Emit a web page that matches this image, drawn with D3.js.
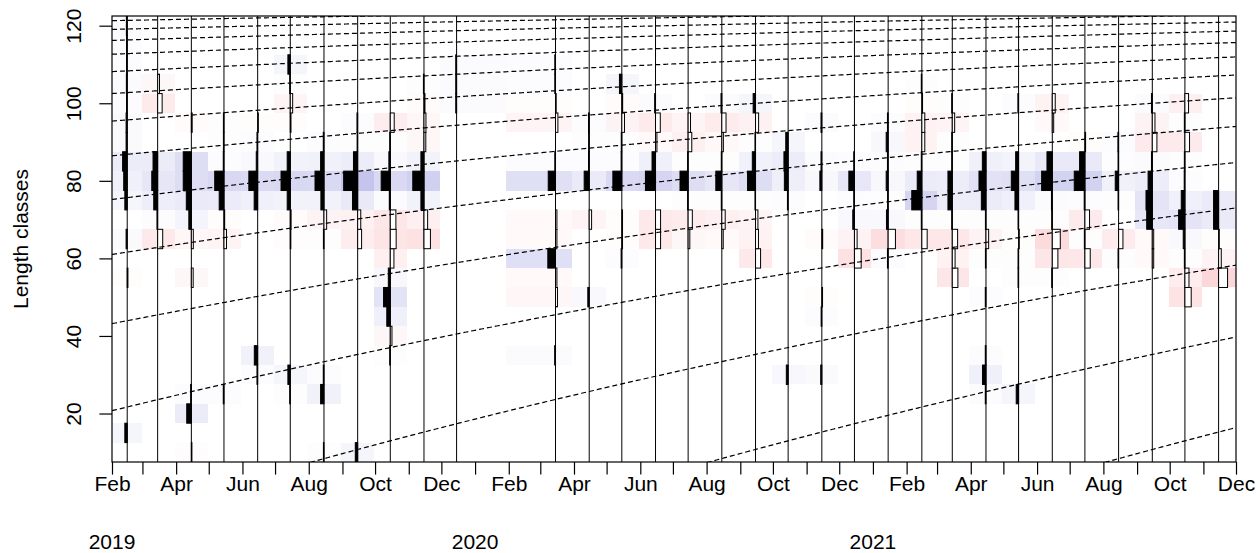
<!DOCTYPE html>
<html>
<head>
<meta charset="utf-8">
<script src="https://cdn.jsdelivr.net/npm/d3@7"></script>
<style>
  body { margin: 0; background: #fff; }
  text { font-family: Arial, "Liberation Sans", sans-serif; fill: #000; }
</style>
</head>
<body>
<svg id="chart" width="1260" height="553"></svg>
<script>
// Length class mid-points (cm), bin width 5
const lengthClasses = [10, 15, 20, 25, 30, 35, 40, 45, 50, 55, 60, 65, 70, 75, 80, 85, 90, 95, 100, 105, 110, 115, 120];

// Sampling dates (mid-month)
const sampleDates = [
  "2019-02-15", "2019-03-15", "2019-04-15", "2019-05-15", "2019-06-15", "2019-07-15",
  "2019-08-15", "2019-09-15", "2019-10-15", "2019-11-15", "2019-12-15",
  "2020-03-15", "2020-04-15", "2020-05-15", "2020-06-15", "2020-07-15",
  "2020-08-15", "2020-09-15", "2020-10-15", "2020-11-15", "2020-12-15",
  "2021-01-15", "2021-02-15", "2021-03-15", "2021-04-15", "2021-05-15", "2021-06-15",
  "2021-07-15", "2021-08-15", "2021-09-15", "2021-10-15", "2021-11-15"
];

// Restructured counts per sample, one value per length class (10 ... 120)
const rcounts2019 = [
  [0, 0.17, 0, 0, 0, 0, 0, 0, 0, -0.05, 0, 0.08, 0, 0.17, 0.25, 0.33, 0.08, 0.08, 0.05, 0.06, 0.05, 0.05, 0.06],
  [0, 0, 0, 0, 0, 0, 0, 0, 0, 0, 0, -0.36, 0.05, 0.28, 0.42, 0.33, 0, 0, -0.32, -0.13, 0, 0, 0],
  [-0.04, 0, 0.33, 0.05, 0, 0, 0, 0, 0, -0.13, 0, -0.14, 0.18, 0.36, 0.58, 0.58, 0, -0.06, 0, 0, 0, 0, 0],
  [0, 0, 0, 0.05, 0, 0, 0, 0, 0, 0, 0, -0.18, -0.05, 0.34, 0.66, 0.05, 0.04, 0.04, 0, 0, 0, 0, 0],
  [0, 0, 0, 0, 0.05, 0.24, 0, 0, 0, 0, 0, 0, 0, 0.25, 0.63, 0.1, 0.05, -0.05, 0, 0, 0, 0, 0],
  [0, 0, 0, 0.04, 0.17, 0, 0, 0, 0, 0, 0, -0.04, -0.06, 0.22, 0.66, 0.22, 0, -0.05, -0.17, 0.04, 0.17, 0, 0],
  [0.04, 0, 0, 0.24, 0.05, 0, 0, 0, 0, 0, 0, 0.04, -0.19, 0.22, 0.64, 0.24, 0.05, 0, 0, 0, 0, 0, 0],
  [0.17, 0, 0, 0, 0, 0, 0, 0, 0, 0, 0, -0.28, -0.22, 0.37, 1.0, 0.3, 0.04, 0.05, 0, 0, 0, 0, 0],
  [0, 0, 0, 0, 0, 0.04, -0.12, 0.25, 0.48, 0.14, -0.26, -0.42, -0.4, 0.07, 0.65, 0.1, 0.04, -0.28, 0, 0, 0, 0, 0],
  [0, 0, 0, 0, 0, 0, 0, 0, 0, 0, 0, -0.46, -0.26, 0.22, 0.8, 0.22, -0.13, -0.14, -0.07, 0.04, 0, 0, 0],
  [0, 0, 0, 0, 0, 0, 0, 0, 0, 0, 0, 0, 0, 0, 0, 0, 0, 0, 0.06, 0.06, 0.06, 0, 0]
];
const rcounts2020 = [
  [0, 0, 0, 0, 0, 0.06, 0, 0, -0.14, -0.1, 0.55, -0.1, -0.1, 0, 0.52, 0.05, 0, -0.17, -0.05, 0.05, 0.05, 0, 0],
  [0, 0, 0, 0, 0, 0, 0, 0, 0.1, 0, 0, 0, -0.17, 0, 0.36, 0.05, 0.04, 0.05, 0, 0, 0, 0, 0],
  [0, 0, 0, 0, 0, 0, 0, 0, 0, 0, 0.05, -0.05, -0.05, 0, 0.64, 0.05, 0.04, -0.19, -0.06, 0.17, 0, 0, 0],
  [0, 0, 0, 0, 0, 0, 0, 0, 0, 0, 0, -0.36, -0.36, 0, 0.72, 0.25, -0.1, -0.34, 0.06, 0, 0, 0, 0],
  [0, 0, 0, 0, 0, 0, 0, 0, 0, 0, 0, -0.12, -0.3, 0.04, 0.58, 0.04, -0.26, -0.17, 0, 0, 0, 0, 0],
  [0, 0, 0, 0, 0, 0, 0, 0, 0, 0, 0, -0.1, -0.24, 0.04, 0.43, 0.04, -0.11, -0.3, 0.06, 0, 0, 0, 0],
  [0, 0, 0, 0, 0, 0, 0, 0, 0, 0, -0.36, -0.21, -0.17, 0.04, 0.57, 0.23, 0.04, -0.22, 0.17, 0, 0, 0, 0],
  [0, 0, 0, 0, 0.13, 0, 0, 0, 0, 0, 0, 0, 0, 0.05, 0.27, 0.3, 0.17, 0, 0, 0, 0, 0, 0],
  [0, 0, 0, 0, 0.08, 0, 0, 0.05, -0.05, 0, 0, -0.06, 0, 0, 0.14, 0.06, 0, 0.06, 0, 0, 0, 0, 0],
  [0, 0, 0, 0, 0, 0, 0, 0, 0, 0, -0.48, -0.19, 0.12, 0.05, 0.4, 0.05, 0, 0, 0, 0, 0, 0, 0]
];
const rcounts2021 = [
  [0, 0, 0, 0, 0, 0, 0, 0, 0, 0, 0.05, -0.52, 0.12, 0.04, 0.14, 0.05, 0.14, 0.05, 0, 0, 0, 0, 0],
  [0, 0, 0, 0, 0, 0, 0, 0, 0, 0, 0, -0.38, 0.04, 0.72, 0.33, 0.04, -0.21, -0.21, -0.05, 0.04, 0, 0, 0],
  [0, 0, 0, 0, 0, 0, 0, 0, 0, -0.4, -0.2, -0.38, 0.04, 0.31, 0.31, 0.04, 0.04, -0.17, 0.04, 0, 0, 0, 0],
  [0, 0, 0, 0.05, 0.25, 0.05, 0, 0, 0.05, 0, 0.04, -0.19, 0.04, 0.33, 0.5, 0.26, 0, 0, 0, 0, 0, 0, 0],
  [0, 0, 0, 0.17, 0, 0, 0, 0, 0, 0.04, 0.04, -0.05, 0.04, 0.26, 0.52, 0.21, 0, 0, 0.05, 0, 0, 0, 0],
  [0, 0, 0, 0, 0, 0, 0, 0, 0, 0.04, -0.4, -0.57, 0.04, 0.06, 0.76, 0.38, 0, -0.1, -0.21, 0, 0, 0, 0],
  [0, 0, 0, 0, 0, 0, 0, 0, 0, 0, -0.38, 0.04, -0.33, 0.05, 0.76, 0.38, -0.05, 0, 0, 0, 0, 0, 0],
  [0, 0, 0, 0, 0, 0, 0, 0, 0, 0, 0.04, -0.31, 0, 0.04, 0.24, 0.04, 0.05, 0, 0, 0, 0, 0, 0],
  [0, 0, 0, 0, 0, 0, 0, 0, 0, 0, -0.1, -0.1, 0.4, 0.45, 0.3, 0.06, -0.33, -0.19, 0.06, 0, 0, 0, 0],
  [0, 0, 0, 0, 0, 0, 0, 0, -0.45, -0.29, 0.04, 0.12, 0.45, 0.26, 0.05, 0.04, -0.33, 0.04, -0.26, 0, 0, 0, 0],
  [0, 0, 0, 0, 0, 0, 0, 0, 0, -0.64, -0.19, -0.05, 0.36, 0.36, 0, 0, 0, 0, 0, 0, 0, 0, 0]
];

// Axis ticks and labels
const yTicks = [20, 40, 60, 80, 100, 120];
const yearLabels = ["2019", "2020", "2021"];

// von Bertalanffy growth parameters and cohort birth years
const Linf = 130;
const K = 0.23;
const tAnchor = 0.33;
const cohortYears = [2004, 2005, 2006, 2007, 2008, 2009, 2010, 2011, 2012, 2013, 2014, 2015, 2016, 2017, 2018, 2019, 2020, 2021];

// ---------------------------------------------------------------------------
const svg = d3.select("#chart");
const pLeft = 112, pRight = 1236, pTop = 16, pBottom = 462;
const fontSize = 21;

const parse = d3.timeParse("%Y-%m-%d");
const dates = sampleDates.map(parse);
const rcounts = [...rcounts2019, ...rcounts2020, ...rcounts2021];

const x = d3.scaleTime()
  .domain([new Date(2019, 1, 1), new Date(2021, 11, 1)])
  .range([pLeft, pRight]);
const y = d3.scaleLinear().domain([7.5, 122.5]).range([pBottom, pTop]);
const barW = d3.scaleLinear().domain([0, 1]).range([0, 14]);
const heat = d3.scaleLinear()
  .domain([-1, 0, 1])
  .range(["rgb(250,192,196)", "#ffffff", "rgb(196,196,236)"]);

svg.append("defs").append("clipPath").attr("id", "plotArea")
  .append("rect").attr("x", pLeft).attr("y", pTop)
  .attr("width", pRight - pLeft).attr("height", pBottom - pTop);

const plot = svg.append("g").attr("clip-path", "url(#plotArea)");

// cell boundaries: half-way between neighbouring samples
const xs = dates.map(d => x(d));
const edges = xs.map((v, i) => [
  i === 0 ? pLeft : (xs[i - 1] + v) / 2,
  i === xs.length - 1 ? pRight : (v + xs[i + 1]) / 2
]);

// heat cells
const cells = [];
rcounts.forEach((row, i) => row.forEach((v, j) => {
  if (v !== 0) cells.push({ i, m: lengthClasses[j], v });
}));
plot.append("g").selectAll("rect").data(cells).join("rect")
  .attr("x", d => edges[d.i][0])
  .attr("width", d => edges[d.i][1] - edges[d.i][0])
  .attr("y", d => y(d.m + 2.5))
  .attr("height", d => y(d.m - 2.5) - y(d.m + 2.5))
  .attr("fill", d => heat(d.v))
  .attr("shape-rendering", "crispEdges");

// sample lines
plot.append("g").selectAll("line").data(dates).join("line")
  .attr("x1", d => x(d)).attr("x2", d => x(d))
  .attr("y1", pTop).attr("y2", pBottom)
  .attr("stroke", "#000").attr("stroke-width", 1);

// bars: positive to the left (black), negative to the right (white)
plot.append("g").selectAll("rect").data(cells).join("rect")
  .attr("x", d => d.v > 0 ? xs[d.i] - barW(d.v) : xs[d.i])
  .attr("width", d => barW(Math.abs(d.v)))
  .attr("y", d => y(d.m + 2.5))
  .attr("height", d => y(d.m - 2.5) - y(d.m + 2.5))
  .attr("fill", d => d.v > 0 ? "#000" : "#fff")
  .attr("stroke", "#000").attr("stroke-width", 1);

// growth curves
function decimalYear(d) {
  const yr = d.getFullYear();
  const s = new Date(yr, 0, 1), e = new Date(yr + 1, 0, 1);
  return yr + (d - s) / (e - s);
}
const days = d3.timeDay.range(x.domain()[0], d3.timeDay.offset(x.domain()[1], 1));
const line = d3.line().x(p => x(p[0])).y(p => y(p[1]));
cohortYears.forEach(c => {
  const pts = days
    .map(d => [d, Linf * (1 - Math.exp(-K * (decimalYear(d) - (c + tAnchor))))])
    .filter(p => p[1] >= 0);
  if (pts.length < 2) return;
  plot.append("path").datum(pts).attr("d", line)
    .attr("fill", "none").attr("stroke", "#000")
    .attr("stroke-width", 1.2).attr("stroke-dasharray", "5,3");
});

// frame
svg.append("rect").attr("x", pLeft).attr("y", pTop)
  .attr("width", pRight - pLeft).attr("height", pBottom - pTop)
  .attr("fill", "none").attr("stroke", "#000").attr("stroke-width", 1.2);

// y axis
const yAxis = svg.append("g").attr("transform", `translate(${pLeft},0)`)
  .call(d3.axisLeft(y).tickValues(yTicks).tickSize(12.6).tickFormat(d3.format("d")));
yAxis.select(".domain").remove();
yAxis.selectAll("line").attr("stroke", "#000").attr("stroke-width", 1.2);
yAxis.selectAll("text")
  .attr("font-size", fontSize).attr("x", null).attr("dy", null)
  .attr("text-anchor", "middle")
  .attr("transform", "translate(-31,0) rotate(-90)");

// x axis: monthly ticks, labels every second month
const fmtMonth = d3.timeFormat("%b");
const xAxis = svg.append("g").attr("transform", `translate(0,${pBottom})`)
  .call(d3.axisBottom(x).ticks(d3.timeMonth.every(1)).tickSize(12.6).tickPadding(10)
    .tickFormat(d => d.getMonth() % 2 === 1 ? fmtMonth(d) : ""));
xAxis.select(".domain").remove();
xAxis.selectAll("line").attr("stroke", "#000").attr("stroke-width", 1.2);
xAxis.selectAll("text").attr("font-size", fontSize).attr("dy", null).attr("y", 29);

// year labels
svg.append("g").selectAll("text").data(yearLabels).join("text")
  .attr("x", d => Math.max(pLeft, x(new Date(+d, 0, 1))))
  .attr("y", 549)
  .attr("text-anchor", "middle")
  .attr("font-size", fontSize)
  .text(d => d);

// axis title
svg.append("text")
  .attr("transform", `translate(28,${(pTop + pBottom) / 2}) rotate(-90)`)
  .attr("text-anchor", "middle")
  .attr("font-size", fontSize)
  .text("Length classes");
</script>
</body>
</html>
